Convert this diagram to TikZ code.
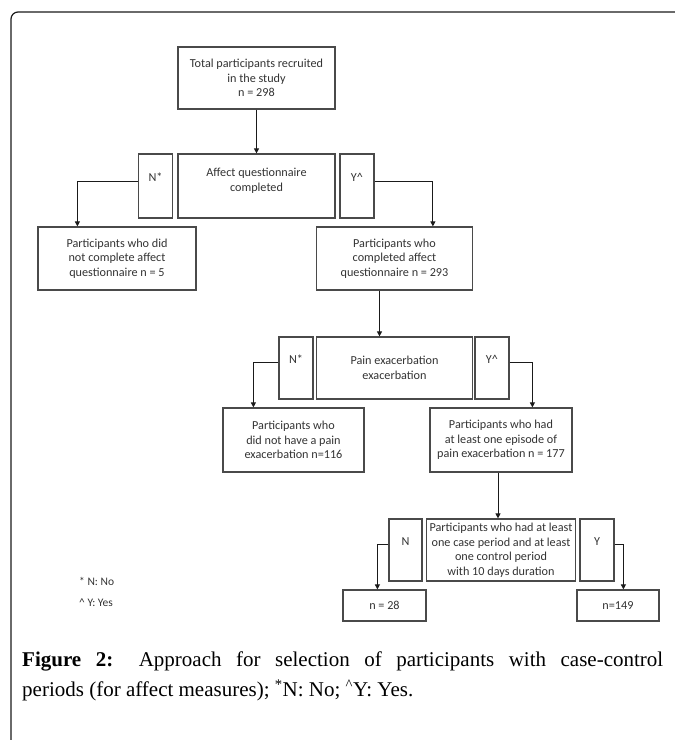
\documentclass[tikz,border=0pt]{standalone}
\usepackage{fontspec}
\setmainfont{Liberation Serif}
\newfontfamily\boxfont{Carlito}
\usetikzlibrary{arrows.meta,positioning,calc}
\definecolor{ink}{HTML}{1A1A1A}
\definecolor{boxline}{HTML}{4A4A4A}
\definecolor{boxtext}{HTML}{333333}
\tikzset{
  block/.style={draw=boxline, line width=1.2pt, align=center, inner sep=0pt,
                text=boxtext, font=\boxfont\fontsize{12.2}{14.5}\selectfont},
  tag/.style={block, minimum width=34pt, minimum height=64pt,
              text height=8.5pt, text depth=18pt},
  arrow/.style={-{Triangle[length=5pt,width=5pt]}, line width=1pt, draw=ink},
  legend/.style={font=\boxfont\fontsize{11.5}{13}\selectfont, text=boxtext,
                 anchor=base west, inner sep=0pt}
}

\begin{document}
\begin{tikzpicture}[x=1pt,y=-1pt]
  \useasboundingbox (0,0) rectangle (675,740);
  % frame
  \draw[ink, line width=1.2pt, rounded corners=7pt] (11,760) -- (11,12) -- (700,12);

  % first split
  \node[block, minimum width=157pt, minimum height=62pt] (total) at (256.5,78)
    {Total participants recruited\\in the study\\n = 298};
  \node[block, minimum width=157pt, minimum height=64pt, text height=23pt, text depth=13pt] (affect) at (256.5,186)
    {Affect questionnaire\\completed};
  \node[tag] (nAffect) at (155.5,186) {N*};
  \node[tag] (yAffect) at (357,186) {Y\textasciicircum};
  \node[block, minimum width=158pt, minimum height=63pt] (noAffect) at (117,258.5)
    {Participants who did\\not complete affect\\questionnaire n = 5};
  \node[block, minimum width=156pt, minimum height=63pt] (yesAffect) at (394.5,258.5)
    {Participants who\\completed affect\\questionnaire n = 293};

  % second split
  \node[block, minimum width=156pt, minimum height=62pt] (pain) at (394.5,368)
    {Pain exacerbation\\exacerbation};
  \node[tag, minimum height=62pt] (nPain) at (296,368) {N*};
  \node[tag, minimum height=62pt] (yPain) at (492,368) {Y\textasciicircum};
  \node[block, minimum width=141pt, minimum height=64pt] (noPain) at (293.5,440)
    {Participants who\\did not have a pain\\exacerbation n=116};
  \node[block, minimum width=142pt, minimum height=64pt] (yesPain) at (501,440)
    {Participants who had\\at least one episode of\\pain exacerbation n = 177};

  % third split
  \node[block, minimum width=149pt, minimum height=62pt] (period) at (501,550)
    {Participants who had at least\\one case period and at least\\one control period\\with 10 days duration};
  \node[tag, minimum width=33pt, minimum height=62pt] (nPeriod) at (405.5,550) {N};
  \node[tag, minimum height=62pt] (yPeriod) at (597,550) {Y};
  \node[block, minimum width=83pt, minimum height=31pt] (periodNo) at (384.5,605.5) {n = 28};
  \node[block, minimum width=82pt, minimum height=31pt] (periodYes) at (618,605.5) {n=149};

  % connectors
  \draw[arrow] (total.south) -- (affect.north);
  \draw[arrow] ([yshift=5pt]nAffect.west) -| ([xshift=40pt]noAffect.north west);
  \draw[arrow] ([yshift=5pt]yAffect.east) -| ([xshift=117pt]yesAffect.north west);
  \draw[arrow] ([xshift=-15pt]yesAffect.south) -- ([xshift=-15pt]pain.north);
  \draw[arrow] ([yshift=6pt]nPain.west) -| ([xshift=31pt]noPain.north west);
  \draw[arrow] ([yshift=6pt]yPain.east) -| ([xshift=103pt]yesPain.north west);
  \draw[arrow] ([xshift=-3pt]yesPain.south) -- ([xshift=-3pt]period.north);
  \draw[arrow] ([yshift=6pt]nPeriod.west) -| ([xshift=35pt]periodNo.north west);
  \draw[arrow] ([yshift=6pt]yPeriod.east) -| ([xshift=47pt]periodYes.north west);

  % key
  \node[legend] (noKey) at (79,585) {* N: No};
  \node[legend] (yesKey) at (79,606) {\textasciicircum{} Y: Yes};

  % caption
  \node[anchor=north west, inner sep=0pt, text width=641pt, align=justify,
        font=\fontsize{21}{30}\selectfont] (caption) at (22,652)
    {\textbf{Figure 2:} Approach for selection of participants with case-control\linebreak
     periods (for affect measures); \textsuperscript{*}N: No; \textsuperscript{\textasciicircum}Y: Yes.};
\end{tikzpicture}
\end{document}
